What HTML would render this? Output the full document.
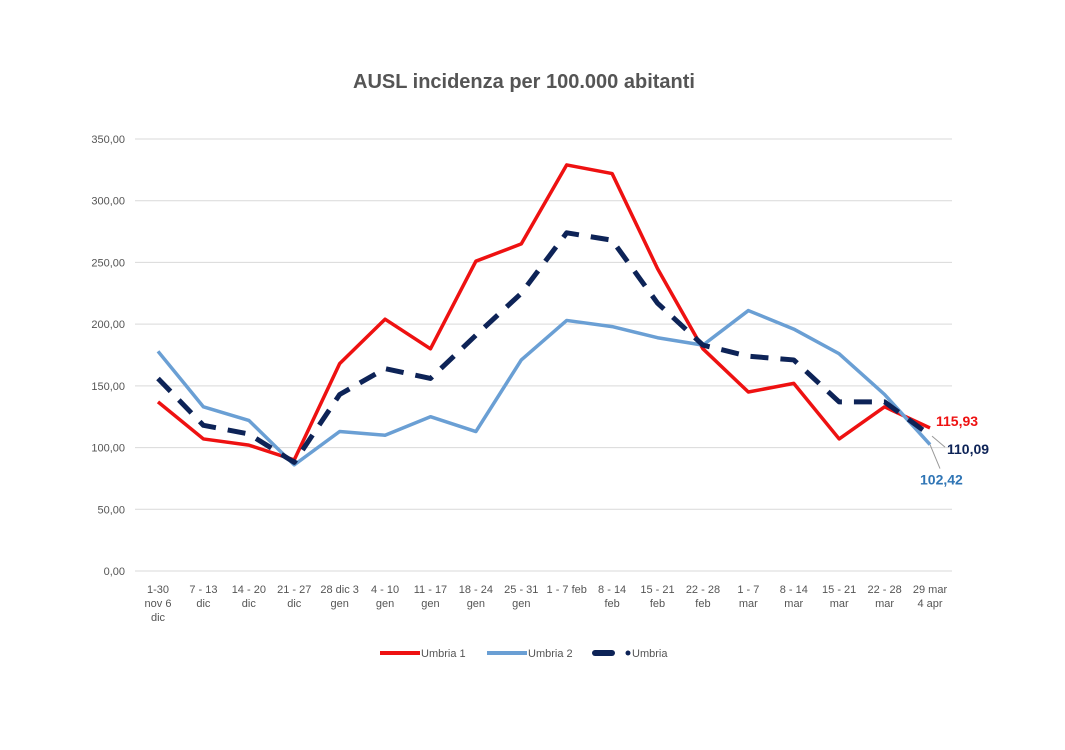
<!DOCTYPE html>
<html><head><meta charset="utf-8"><style>
body{margin:0;background:#fff;font-family:"Liberation Sans",sans-serif}
svg text{font-family:"Liberation Sans",sans-serif}
</style></head><body>
<svg id="chart" width="1065" height="745" xmlns="http://www.w3.org/2000/svg">
<rect width="1065" height="745" fill="#fff"/>
<text x="524" y="88" text-anchor="middle" font-size="20" font-weight="bold" fill="#555">AUSL incidenza per 100.000 abitanti</text>
<g id="grid"></g><g id="xlabels"></g><g id="series"></g>
<g font-size="11" fill="#555">
<line x1="380" y1="653" x2="420" y2="653" stroke="#ee1111" stroke-width="4"/>
<text x="421" y="657">Umbria 1</text>
<line x1="487" y1="653" x2="527" y2="653" stroke="#6a9fd4" stroke-width="4"/>
<text x="528" y="657">Umbria 2</text>
<line x1="595" y1="653" x2="612" y2="653" stroke="#0d2357" stroke-width="6" stroke-linecap="round"/>
<circle cx="628" cy="653" r="2.5" fill="#0d2357"/>
<text x="632" y="657">Umbria</text>
</g>
</svg>
<script>
const categories=[["1-30","nov 6","dic"],["7 - 13","dic"],["14 - 20","dic"],["21 - 27","dic"],["28 dic 3","gen"],["4 - 10","gen"],["11 - 17","gen"],["18 - 24","gen"],["25 - 31","gen"],["1 - 7 feb"],["8 - 14","feb"],["15 - 21","feb"],["22 - 28","feb"],["1 - 7","mar"],["8 - 14","mar"],["15 - 21","mar"],["22 - 28","mar"],["29 mar","4 apr"]];
const umbria1=[137,107,102,90,168,204,180,251,265,329,322,245,180,145,152,107,133,115.93];
const umbria2=[178,133,122,86,113,110,125,113,171,203,198,189,183,211,196,176,143,102.42];
const umbria=[156,118,111,88,143,164,156,191,225,274,268,217,183,174,171,137,137,110.09];
const yTicks=[0,50,100,150,200,250,300,350];
const yTickLabels=["0,00","50,00","100,00","150,00","200,00","250,00","300,00","350,00"];
const NS="http://www.w3.org/2000/svg";
const y=v=>571-v*(432/350);
const x=i=>158+i*(772/(categories.length-1));
function mk(t,a,p){const e=document.createElementNS(NS,t);for(const k in a)e.setAttribute(k,a[k]);p.appendChild(e);return e;}
const grid=document.getElementById('grid');
yTicks.forEach((v,i)=>{
 const l=mk('line',{x1:135,x2:952,y1:y(v),y2:y(v),stroke:'#d9d9d9','stroke-width':1},grid);
 
 
 const t=mk('text',{x:125,y:y(v)+4,'text-anchor':'end','font-size':11,fill:'#555'},grid);
 
 
 t.textContent=yTickLabels[i];
});
const xl=document.getElementById('xlabels');
categories.forEach((c,i)=>{
 const t=mk('text',{'text-anchor':'middle','font-size':11,fill:'#555'},xl);
 
 
 c.forEach((s,j)=>{const ts=mk('tspan',{x:x(i),y:593+j*14},t);ts.textContent=s;});
});
const sg=document.getElementById('series');
function line(d,color,w,dash,name){
 const p=mk('polyline',{points:d.map((v,i)=>x(i)+','+y(v)).join(' '),fill:'none',stroke:color,'stroke-width':w,'stroke-linejoin':'round'},sg);
 if(dash)p.setAttribute('stroke-dasharray',dash);
 
 
}
line(umbria1,'#ee1111',3.5,null,'series-umbria-1');
line(umbria2,'#6a9fd4',3.5,null,'series-umbria-2');
line(umbria,'#0d2357',5,'18,12','series-umbria');
const n=categories.length-1;
function lab(v,dx,dy,color,name){
 const t=mk('text',{x:x(n)+dx,y:y(v)+dy,'font-size':14,'font-weight':'bold',fill:color},sg);
 
 
 t.textContent=v.toFixed(2).replace('.',',');
}
lab(umbria1[n],6,-2,'#ee1111','label-umbria-1-last');
lab(umbria[n],17,19,'#0d2357','label-umbria-last');
lab(umbria2[n],-10,40,'#2f75b5','label-umbria-2-last');
mk('line',{x1:x(n),y1:y(umbria2[n]),x2:x(n)+10,y2:y(umbria2[n])+24,stroke:'#999','stroke-width':1},sg);
mk('line',{x1:x(n)+2,y1:y(umbria[n])+1,x2:x(n)+15,y2:y(umbria[n])+12,stroke:'#999','stroke-width':1},sg);
</script>
</body></html>
